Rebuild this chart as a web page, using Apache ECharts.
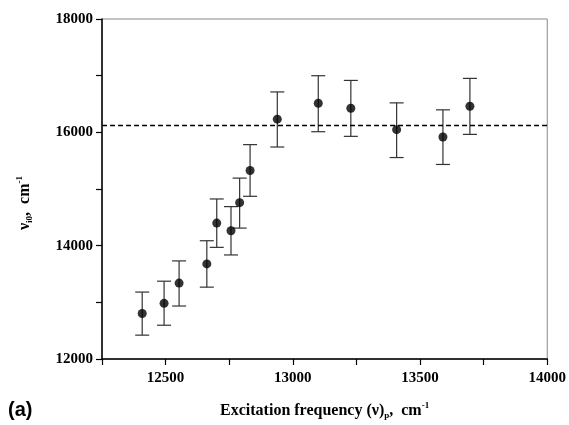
<!DOCTYPE html>
<html>
  <head>
    <meta charset="utf-8">
    <title></title>
    <script src="https://cdn.jsdelivr.net/npm/echarts@6/dist/echarts.min.js"></script>
    <style media="screen">
    html,body{
      height:100%;
      width:100%;
      margin:0px;
      background:#fff;
    }
    #chartDiv{
      width:569px;
      height:425px;
    }
    </style>
  </head>
  <body>
    <div id="chartDiv"></div>
    <script type="text/javascript">
      // excitation frequency (cm-1)
      var freq = [12408, 12494, 12553, 12662, 12701, 12757, 12791, 12832, 12939, 13100, 13228, 13408, 13590, 13696];
      // nu_i0 (cm-1)
      var nu = [12802, 12982, 13339, 13678, 14398, 14263, 14759, 15327, 16233, 16513, 16425, 16047, 15917, 16460];
      // error bar ends
      var errLow = [12421, 12596, 12935, 13268, 13970, 13836, 14310, 14871, 15741, 16011, 15929, 15555, 15433, 15964];
      var errHigh = [13181, 13373, 13731, 14087, 14824, 14689, 15192, 15783, 16713, 16999, 16916, 16520, 16397, 16952];
      var meanLevel = 16120;

      var xTicks = [12500, 13000, 13500, 14000];
      var yTicks = [12000, 14000, 16000, 18000];

      var points = freq.map(function(f, i){ return [f, nu[i]]; });
      var bars = freq.map(function(f, i){ return [f, errLow[i], errHigh[i]]; });

      var serif = '"Liberation Serif", "Times New Roman", serif';

      var option = {
        animation: false,
        backgroundColor: '#fff',
        grid: {
          left: 102,
          right: 21,
          top: 19,
          bottom: 64,
          show: true,
          borderColor: '#888',
          borderWidth: 1
        },
        xAxis: {
          type: 'value',
          min: 12250,
          max: 14000,
          interval: 250,
          name: 'Excitation frequency (ν){sub|p},  cm{sup|-1}',
          nameLocation: 'middle',
          nameGap: 42,
          nameTextStyle: {
            fontFamily: serif,
            fontWeight: 'bold',
            fontSize: 16,
            color: '#000',
            rich: {
              sub: {fontFamily: serif, fontWeight: 'bold', fontSize: 9, padding: [10, 0, 0, 0], color: '#000'},
              sup: {fontFamily: serif, fontWeight: 'bold', fontSize: 9, padding: [0, 0, 10, 0], color: '#000'}
            }
          },
          axisLine: {lineStyle: {color: '#000', width: 1.5}},
          axisTick: {length: 6, lineStyle: {color: '#000', width: 1.2}},
          axisLabel: {
            fontFamily: serif,
            fontWeight: 'bold',
            fontSize: 15,
            color: '#000',
            margin: 12,
            formatter: function(v){
              return xTicks.indexOf(v) >= 0 ? String(v) : '';
            }
          },
          splitLine: {show: false}
        },
        yAxis: {
          type: 'value',
          min: 12000,
          max: 18000,
          interval: 1000,
          name: 'ν{sub|i0},  cm{sup|-1}',
          nameLocation: 'middle',
          nameRotate: 90,
          nameGap: 68,
          nameTextStyle: {
            fontFamily: serif,
            fontWeight: 'bold',
            fontSize: 16,
            color: '#000',
            padding: [0, 28, 0, 0],
            rich: {
              sub: {fontFamily: serif, fontWeight: 'bold', fontSize: 9, padding: [10, 0, 0, 0], color: '#000'},
              sup: {fontFamily: serif, fontWeight: 'bold', fontSize: 9, padding: [0, 0, 10, 0], color: '#000'}
            }
          },
          axisLine: {lineStyle: {color: '#000', width: 1.5}},
          axisTick: {length: 6, lineStyle: {color: '#000', width: 1.2}},
          axisLabel: {
            fontFamily: serif,
            fontWeight: 'bold',
            fontSize: 15,
            color: '#000',
            margin: 9,
            formatter: function(v){
              return yTicks.indexOf(v) >= 0 ? String(v) : '';
            }
          },
          splitLine: {show: false}
        },
        graphic: [
          {
            type: 'text',
            left: 8,
            top: 400,
            style: {
              text: '(a)',
              fontFamily: '"Liberation Sans", Arial, sans-serif',
              fontWeight: 'bold',
              fontSize: 20,
              fill: '#000'
            }
          }
        ],
        series: [
          {
            type: 'custom',
            data: bars,
            z: 2,
            renderItem: function(params, api){
              var x = api.value(0);
              var lo = api.coord([x, api.value(1)]);
              var hi = api.coord([x, api.value(2)]);
              var w = 7;
              var st = {stroke: '#333', lineWidth: 1.2};
              return {
                type: 'group',
                children: [
                  {type: 'line', shape: {x1: lo[0], y1: lo[1], x2: hi[0], y2: hi[1]}, style: st},
                  {type: 'line', shape: {x1: lo[0] - w, y1: lo[1], x2: lo[0] + w, y2: lo[1]}, style: st},
                  {type: 'line', shape: {x1: hi[0] - w, y1: hi[1], x2: hi[0] + w, y2: hi[1]}, style: st}
                ]
              };
            }
          },
          {
            type: 'scatter',
            data: points,
            symbol: 'circle',
            symbolSize: 9,
            z: 3,
            itemStyle: {color: '#000'},
            markLine: {
              silent: true,
              symbol: 'none',
              label: {show: false},
              lineStyle: {color: '#000', type: [5, 3], width: 1.3},
              data: [{yAxis: meanLevel}]
            }
          }
        ]
      };

      var chart = echarts.init(document.getElementById('chartDiv'));
      chart.setOption(option);
    </script>
  </body>
</html>
